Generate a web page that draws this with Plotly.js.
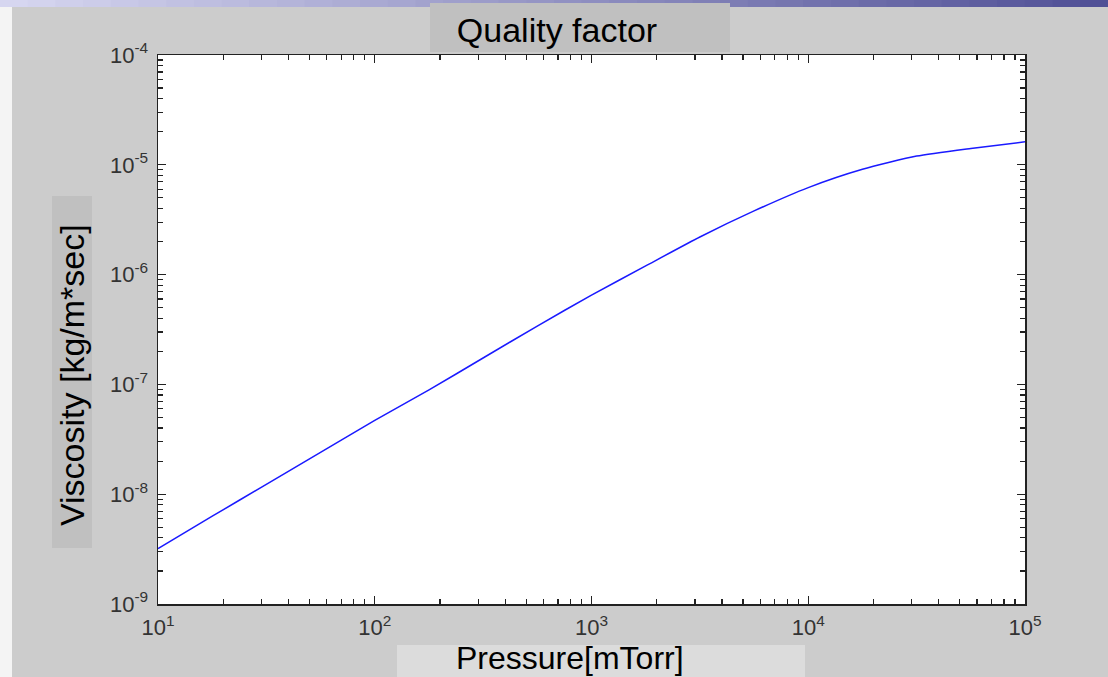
<!DOCTYPE html>
<html>
<head>
<meta charset="utf-8">
<script src="https://cdn.plot.ly/plotly-3.0.1.min.js"></script>
<style>
  html, body { margin: 0; padding: 0; background: #cccccc; }
  #chart { width: 1108px; height: 677px; }
</style>
</head>
<body>
<div id="chart"></div>
<script>
// Data
var pressure = [10, 17.8, 31.6, 56.2, 100, 178, 316, 562, 1000, 1778, 3162, 5623, 10000, 17783, 31623, 56234, 100000];
var viscosity = [3.2e-9, 6.3e-9, 1.23e-8, 2.4e-8, 4.7e-8, 8.9e-8, 1.74e-7, 3.4e-7, 6.5e-7, 1.2e-6, 2.2e-6, 3.8e-6, 6.2e-6, 9.1e-6, 1.2e-5, 1.41e-5, 1.62e-5];

var xTickVals = [10, 100, 1000, 10000, 100000];
var xTickText = ['10<sup>1</sup>', '10<sup>2</sup>', '10<sup>3</sup>', '10<sup>4</sup>', '10<sup>5</sup>'];
var yTickVals = [1e-9, 1e-8, 1e-7, 1e-6, 1e-5, 1e-4];
var yTickText = ['10<sup>-9</sup>', '10<sup>-8</sup>', '10<sup>-7</sup>', '10<sup>-6</sup>', '10<sup>-5</sup>', '10<sup>-4</sup>'];

var titleText = 'Quality factor';
var xTitle = 'Pressure[mTorr]';
var yTitle = 'Viscosity [kg/m*sec]';

// layout geometry (pixels)
var W = 1108, H = 677;
var L = 158, R = 1025, T = 55, B = 604;
function px(x) { return (x - L) / (R - L); }
function py(y) { return (B - y) / (B - T); }

var FONT = 'Liberation Sans, Arial, sans-serif';

var shapes = [];
// top gradient strip
var steps = 40;
for (var i = 0; i < steps; i++) {
  var f = i / (steps - 1);
  var r = Math.round(214 - f * (214 - 80));
  var g = Math.round(214 - f * (214 - 80));
  var b = Math.round(240 - f * (240 - 150));
  shapes.push({type: 'rect', xref: 'paper', yref: 'paper',
    x0: px(W * i / steps), x1: px(W * (i + 1) / steps) + 0.001,
    y0: py(0), y1: py(7), line: {width: 0}, fillcolor: 'rgb(' + r + ',' + g + ',' + b + ')', layer: 'below'});
}
// left white strip
shapes.push({type: 'rect', xref: 'paper', yref: 'paper', x0: px(0), x1: px(12), y0: py(7), y1: py(H),
  line: {width: 0}, fillcolor: '#f4f4f4', layer: 'below'});
// title box
shapes.push({type: 'rect', xref: 'paper', yref: 'paper', x0: px(430), x1: px(730), y0: py(3), y1: py(52),
  line: {width: 0}, fillcolor: '#c0c0c0', layer: 'below'});
// y label box
shapes.push({type: 'rect', xref: 'paper', yref: 'paper', x0: px(52), x1: px(92), y0: py(196), y1: py(548),
  line: {width: 0}, fillcolor: '#c0c0c0', layer: 'below'});
// x label box
shapes.push({type: 'rect', xref: 'paper', yref: 'paper', x0: px(397), x1: px(805), y0: py(645), y1: py(H + 5),
  line: {width: 0}, fillcolor: '#dcdcdc', layer: 'below'});

var trace = {
  x: pressure, y: viscosity, type: 'scatter', mode: 'lines',
  line: {color: '#1a1aff', width: 1.5, shape: 'spline', smoothing: 0.6},
  hoverinfo: 'x+y'
};

var axisCommon = {
  type: 'log', showgrid: false, zeroline: false,
  showline: true, linecolor: '#222', linewidth: 1.5, mirror: 'allticks',
  ticks: 'inside', ticklen: 8, tickwidth: 1.3, tickcolor: '#222',
  tickfont: {family: FONT, size: 22, color: '#333'},
  minor: {ticks: 'inside', ticklen: 5, tickwidth: 1.2, tickcolor: '#222', dtick: 'D1', showgrid: false}
};

var layout = {
  width: W, height: H,
  paper_bgcolor: '#cccccc', plot_bgcolor: '#ffffff',
  margin: {l: L, r: W - R, t: T, b: H - B, pad: 0},
  showlegend: false,
  title: {text: titleText, x: 557 / W, xref: 'container', xanchor: 'center', y: 1 - 30 / H, yanchor: 'middle', yref: 'container',
    font: {family: FONT, size: 34, color: '#000'}},
  xaxis: Object.assign({}, axisCommon, {
    range: [1, 5], tickvals: xTickVals, ticktext: xTickText, tickangle: 0,
    ticklabelstandoff: 3,
    automargin: false
  }),
  yaxis: Object.assign({}, axisCommon, {
    range: [-9, -4], tickvals: yTickVals, ticktext: yTickText,
    ticklabelstandoff: 4,
    automargin: false
  }),
  annotations: [
    {text: xTitle, xref: 'paper', yref: 'paper', x: px(570), y: py(658), xanchor: 'center', yanchor: 'middle',
      showarrow: false, borderpad: 0, font: {family: FONT, size: 32, color: '#000'}},
    {text: yTitle, xref: 'paper', yref: 'paper', x: px(72), y: py(375), xanchor: 'center', yanchor: 'middle',
      textangle: -90, showarrow: false, font: {family: FONT, size: 34, color: '#000'}}
  ],
  shapes: shapes
};

Plotly.newPlot('chart', [trace], layout, {displayModeBar: false, staticPlot: true});
</script>
</body>
</html>
